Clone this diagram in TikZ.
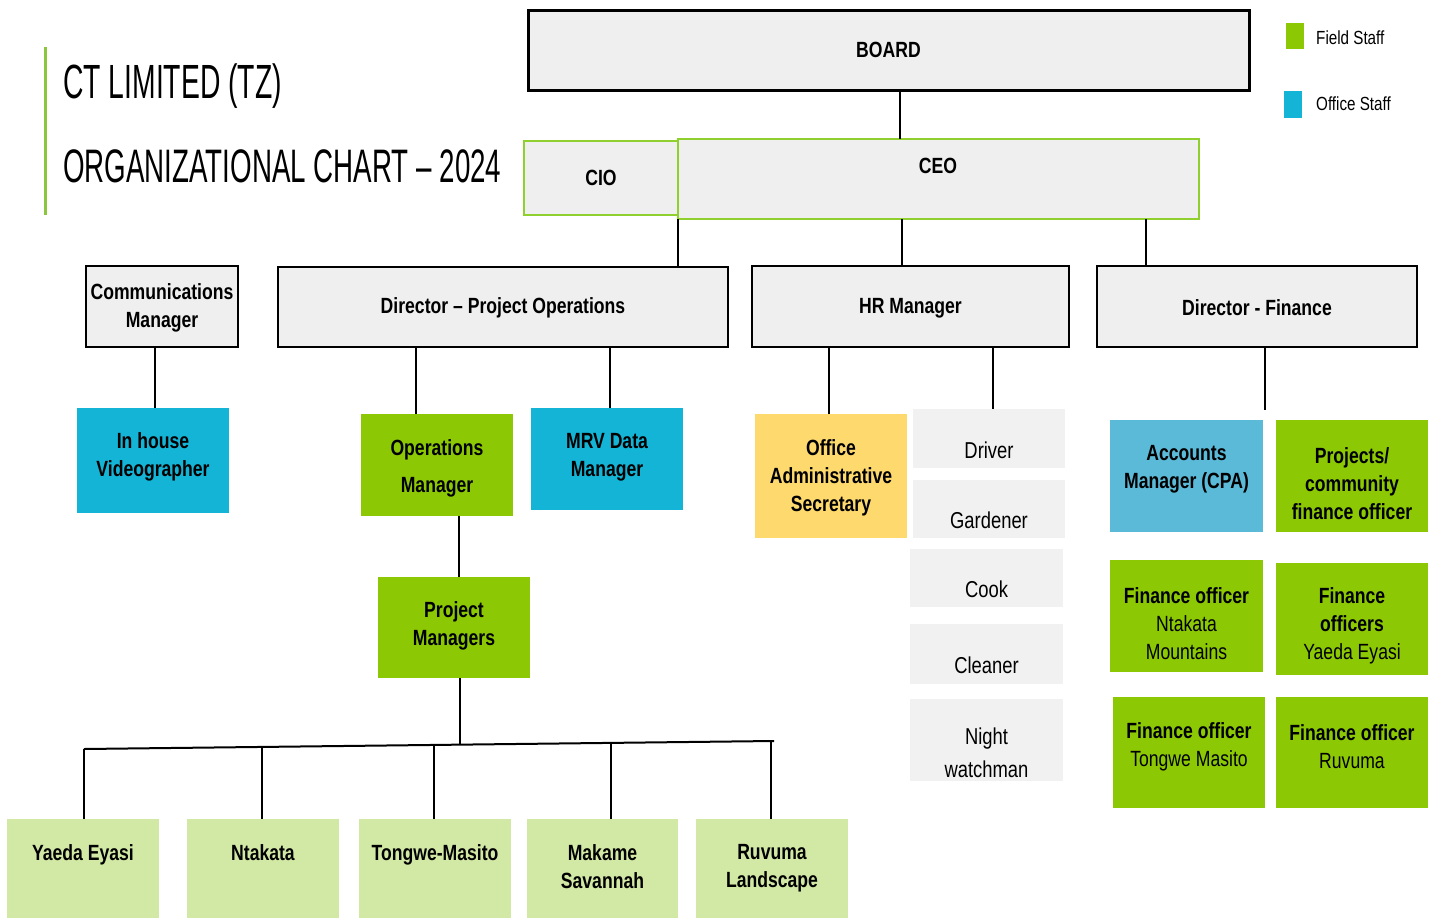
\documentclass[tikz,border=0pt]{standalone}
\usepackage{fontspec}
\usetikzlibrary{calc}
\setmainfont{Liberation Sans}[FakeStretch=0.8]
\newfontfamily\titlefont{Liberation Sans}[FakeStretch=0.59]
\definecolor{fieldgreen}{HTML}{8CC904}
\definecolor{officecyan}{HTML}{14B4D6}
\definecolor{acctblue}{HTML}{5BBAD8}
\definecolor{secyellow}{HTML}{FDD96E}
\definecolor{boxgray}{HTML}{EFEFEF}
\definecolor{staffgray}{HTML}{F1F1F1}
\definecolor{paleg}{HTML}{D2E9A5}
\definecolor{ceogreen}{HTML}{8FCF2E}
\definecolor{barGreen}{HTML}{8CC63F}
\tikzset{
  base/.style={rectangle, inner sep=0pt, outer sep=0pt},
  mgrbox/.style={base, draw=black, line width=2.5pt, fill=boxgray},
  topbox/.style={base, draw=ceogreen, line width=2.5pt, fill=boxgray},
  colbox/.style={base, fill=#1},
  btxt/.style={align=center, inner sep=0pt, font=\fontsize{22}{28}\selectfont\bfseries},
  rtxt/.style={align=center, inner sep=0pt, font=\fontsize{23}{33}\selectfont},
  ftxt/.style={align=center, inner sep=0pt, font=\fontsize{22}{28}\selectfont},
  link/.style={draw=black, line width=2pt},
  legtxt/.style={anchor=west, inner sep=0pt, font=\fontsize{19}{22}\selectfont},
}
\begin{document}
\begin{tikzpicture}[x=1pt,y=-1pt]
\useasboundingbox[fill=white] (0,0) rectangle (1435,918);

% title
\draw[barGreen, line width=3pt] (45,47) -- (45,215);
\node[anchor=west, inner sep=0pt, font=\titlefont\fontsize{48}{50}\selectfont] (t1) at (63,86) {CT LIMITED (TZ)};
\node[anchor=west, inner sep=0pt, font=\titlefont\fontsize{47}{50}\selectfont] (t2) at (63,166) {ORGANIZATIONAL CHART – 2024};

% legend
\node[colbox=fieldgreen, minimum width=18pt, minimum height=26pt] (legG) at (1295,36) {};
\node[legtxt] (legGt) at (1316,38) {Field Staff};
\node[colbox=officecyan, minimum width=18pt, minimum height=27pt] (legO) at (1293,104.5) {};
\node[legtxt] (legOt) at (1316,104) {Office Staff};

% top level
\node[mgrbox, line width=3pt, minimum width=721pt, minimum height=80pt, btxt] (board) at (888.5,50) {BOARD};
\node[topbox, minimum width=154pt, minimum height=74pt, btxt] (cio) at (601,178) {CIO};
\node[topbox, minimum width=521pt, minimum height=80pt] (ceo) at (938.5,179) {};
\node[btxt] (ceoT) at (938,166) {CEO};

% managers
\node[mgrbox, minimum width=152pt, minimum height=81pt] (comm) at (162,306.5) {};
\node[btxt] (commT) at (162,308) {Communications\\Manager};
\node[mgrbox, minimum width=450pt, minimum height=80pt] (dpo) at (503,307) {};
\node[btxt] (dpoT) at (503,308) {Director – Project Operations};
\node[mgrbox, minimum width=317pt, minimum height=81pt] (hr) at (910.5,306.5) {};
\node[btxt] (hrT) at (910.5,308) {HR Manager};
\node[mgrbox, minimum width=320pt, minimum height=81pt] (dfin) at (1257,306.5) {};
\node[btxt] (dfinT) at (1257,308) {Director - Finance};

% communications branch
\node[colbox=officecyan, minimum width=152pt, minimum height=105pt] (video) at (153,460.5) {};
\node[btxt] (videoT) at (153,457) {In house\\Videographer};

% project operations branch
\node[colbox=fieldgreen, minimum width=152pt, minimum height=102pt] (ops) at (437,465) {};
\node[btxt, font=\fontsize{22}{37}\selectfont\bfseries] (opsT) at (437,468) {Operations\\Manager};
\node[colbox=officecyan, minimum width=152pt, minimum height=102pt] (mrv) at (607,459) {};
\node[btxt] (mrvT) at (607,457.5) {MRV Data\\Manager};
\node[colbox=fieldgreen, minimum width=152pt, minimum height=101pt] (pm) at (454,627.5) {};
\node[btxt] (pmT) at (454,625.5) {Project\\Managers};

% landscapes
\node[colbox=paleg, minimum width=152pt, minimum height=99pt] (yaeda) at (83,868.5) {};
\node[btxt, anchor=north] (yaedaT) at (83,844) {Yaeda Eyasi};
\node[colbox=paleg, minimum width=152pt, minimum height=99pt] (ntakata) at (263,868.5) {};
\node[btxt, anchor=north] (ntakataT) at (263,844) {Ntakata};
\node[colbox=paleg, minimum width=152pt, minimum height=99pt] (tongwe) at (435,868.5) {};
\node[btxt, anchor=north] (tongweT) at (435,844) {Tongwe-Masito};
\node[colbox=paleg, minimum width=151pt, minimum height=99pt] (makame) at (602.5,868.5) {};
\node[btxt, anchor=north] (makameT) at (602.5,844) {Makame\\Savannah};
\node[colbox=paleg, minimum width=152pt, minimum height=99pt] (ruvuma) at (772,868.5) {};
\node[btxt, anchor=north] (ruvumaT) at (772,844) {Ruvuma\\Landscape};

% HR branch
\node[colbox=secyellow, minimum width=152pt, minimum height=124pt] (oas) at (831,476) {};
\node[btxt] (oasT) at (831,478) {Office\\Administrative\\Secretary};
\node[colbox=staffgray, minimum width=152pt, minimum height=59pt] (driver) at (989,438.5) {};
\node[rtxt] (driverT) at (989,450) {Driver};
\node[colbox=staffgray, minimum width=152pt, minimum height=58pt] (gardener) at (989,509) {};
\node[rtxt] (gardenerT) at (989,520) {Gardener};
\node[colbox=staffgray, minimum width=153pt, minimum height=58pt] (cook) at (986.5,578) {};
\node[rtxt] (cookT) at (986.5,589) {Cook};
\node[colbox=staffgray, minimum width=153pt, minimum height=60pt] (cleaner) at (986.5,654) {};
\node[rtxt] (cleanerT) at (986.5,665) {Cleaner};
\node[colbox=staffgray, minimum width=153pt, minimum height=82pt] (night) at (986.5,740) {};
\node[rtxt] (nightT) at (986.5,752.5) {Night\\watchman};

% finance branch
\node[colbox=acctblue, minimum width=153pt, minimum height=112pt] (acct) at (1186.5,476) {};
\node[btxt] (acctT) at (1186.5,469.5) {Accounts\\Manager (CPA)};
\node[colbox=fieldgreen, minimum width=152pt, minimum height=112pt] (projfin) at (1352,476) {};
\node[btxt] (projfinT) at (1352,483.5) {Projects/\\community\\finance officer};
\node[colbox=fieldgreen, minimum width=153pt, minimum height=112pt] (fonm) at (1186.5,616) {};
\node[ftxt] (fonmT) at (1186.5,623.5) {\textbf{Finance officer}\\Ntakata\\Mountains};
\node[colbox=fieldgreen, minimum width=152pt, minimum height=112pt] (foye) at (1352,619) {};
\node[ftxt] (foyeT) at (1352,625.5) {\textbf{Finance}\\\textbf{officers}\\Yaeda Eyasi};
\node[colbox=fieldgreen, minimum width=152pt, minimum height=111pt] (fotm) at (1189,752.5) {};
\node[ftxt] (fotmT) at (1189,747) {\textbf{Finance officer}\\Tongwe Masito};
\node[colbox=fieldgreen, minimum width=152pt, minimum height=111pt] (foru) at (1352,752.5) {};
\node[ftxt] (foruT) at (1352,747) {\textbf{Finance officer}\\Ruvuma};

% connector x positions
\coordinate (k0) at (900,0);
\coordinate (k1) at (678,0);
\coordinate (k2) at (902,0);
\coordinate (k3) at (1146,0);
\coordinate (k4) at (155,0);
\coordinate (k5) at (416,0);
\coordinate (k6) at (610,0);
\coordinate (k7) at (459,0);
\coordinate (k8) at (829,0);
\coordinate (k9) at (993,0);
\coordinate (kf) at (1265,0);
\coordinate (fe) at (1265,410);
\coordinate (b1) at (84,749);
\coordinate (bR) at (774,741);
\coordinate (bar) at ($(b1)!0.545!(bR)$);
\coordinate (b2) at ($(b1)!0.258!(bR)$);
\coordinate (b3) at ($(b1)!0.507!(bR)$);
\coordinate (b4) at ($(b1)!0.764!(bR)$);
\coordinate (b5) at ($(b1)!0.9957!(bR)$);

% connectors
\draw[link] (board.south -| k0) -- (ceo.north -| k0);
\draw[link] (ceo.south -| k1) -- (dpo.north -| k1);
\draw[link] (ceo.south -| k2) -- (hr.north -| k2);
\draw[link] (ceo.south -| k3) -- (dfin.north -| k3);
\draw[link] (comm.south -| k4) -- (video.north -| k4);
\draw[link] (dpo.south -| k5) -- (ops.north -| k5);
\draw[link] (dpo.south -| k6) -- (mrv.north -| k6);
\draw[link] (ops.south -| k7) -- (pm.north -| k7);
\draw[link] (pm.south -| bar) -- (bar);
\draw[link] (b1) -- (bR);
\draw[link] (b1) -- (yaeda.north -| b1);
\draw[link] (b2) -- (ntakata.north -| b2);
\draw[link] (b3) -- (tongwe.north -| b3);
\draw[link] (b4) -- (makame.north -| b4);
\draw[link] (b5) -- (ruvuma.north -| b5);
\draw[link] (hr.south -| k8) -- (oas.north -| k8);
\draw[link] (hr.south -| k9) -- (driver.north -| k9);
\draw[link] (dfin.south -| kf) -- (fe);
\end{tikzpicture}
\end{document}
